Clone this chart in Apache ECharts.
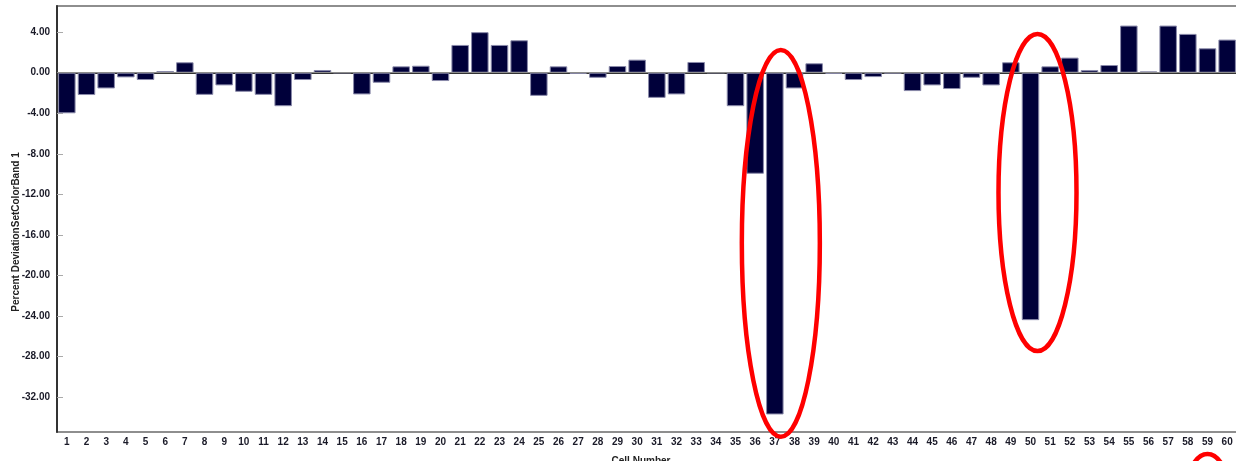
<!DOCTYPE html>
<html>
<head>
<meta charset="utf-8">
<script src="https://cdn.jsdelivr.net/npm/echarts@6/dist/echarts.min.js"></script>
<style>
  html, body { margin: 0; padding: 0; background: #ffffff; }
  #chart { width: 1236px; height: 461px; }
</style>
</head>
<body>
<div id="chart"></div>
<script>
// Cell numbers 1..60
const cells = ['1','2','3','4','5','6','7','8','9','10','11','12','13','14','15','16','17','18','19','20',
  '21','22','23','24','25','26','27','28','29','30','31','32','33','34','35','36','37','38','39','40',
  '41','42','43','44','45','46','47','48','49','50','51','52','53','54','55','56','57','58','59','60'];

// Percent deviation per cell
const deviation = [
  -4.0, -2.2, -1.55, -0.46, -0.72, 0.17, 1.03, -2.18, -1.25, -1.88,
  -2.18, -3.3, -0.72, 0.27, 0.0, -2.14, -0.99, 0.63, 0.69, -0.82,
  2.74, 4.0, 2.74, 3.2, -2.28, 0.63, -0.1, -0.5, 0.66, 1.29,
  -2.48, -2.14, 1.06, 0.0, -3.3, -9.96, -33.7, -1.55, 0.93, -0.1,
  -0.72, -0.43, -0.05, -1.81, -1.25, -1.61, -0.5, -1.25, 1.03, -24.4,
  0.63, 1.49, 0.27, 0.76, 4.65, 0.13, 4.65, 3.83, 2.41, 3.27
];

// Y axis tick values
const yTicks = [4, 0, -4, -8, -12, -16, -20, -24, -28, -32];

// Cells circled in red
const circledCells = ['37', '50', '59'];

const FONT = '"Liberation Sans", Arial, sans-serif';
const chart = echarts.init(document.getElementById('chart'), null, { renderer: 'canvas' });

chart.setOption({
  animation: false,
  backgroundColor: '#ffffff',
  grid: {
    left: 57, right: -1, top: 6, bottom: 29,
    outerBoundsMode: 'none',
    containLabel: false,
    show: true, borderColor: '#6a6a6a', borderWidth: 1.5, backgroundColor: 'transparent'
  },
  xAxis: {
    type: 'category',
    data: cells,
    name: 'Cell Number',
    nameLocation: 'middle',
    nameGap: 24,
    nameMoveOverlap: false,
    nameTextStyle: { fontFamily: FONT, fontWeight: 'bold', fontSize: 10, color: '#222', padding: [0, 12, 0, 0] },
    axisLine: { lineStyle: { color: '#333', width: 2 } },
    axisTick: { show: false },
    axisLabel: { interval: 0, margin: 5, fontFamily: FONT, fontWeight: 'bold', fontSize: 10, color: '#1a1a28' },
    splitLine: { show: false }
  },
  yAxis: {
    type: 'value',
    min: -35.43,
    max: 6.58,
    name: 'Percent DeviationSetColorBand 1',
    nameLocation: 'middle',
    nameRotate: 90,
    nameGap: 36,
    nameMoveOverlap: false,
    nameTextStyle: { fontFamily: FONT, fontWeight: 'bold', fontSize: 10, color: '#222', padding: [0, 26, 0, 0] },
    axisLine: { show: true, lineStyle: { color: '#333', width: 2 } },
    axisTick: { show: true, inside: true, length: 6, customValues: yTicks, lineStyle: { color: '#aaa' } },
    axisLabel: {
      margin: 7, customValues: yTicks,
      fontFamily: FONT, fontWeight: 'bold', fontSize: 10, color: '#1a1a28',
      formatter: v => v.toFixed(2)
    },
    splitLine: { show: false }
  },
  series: [{
    type: 'bar',
    data: deviation,
    barCategoryGap: '11%',
    itemStyle: { color: '#00003a', borderColor: '#8a8aaa', borderWidth: 1 },
    markLine: {
      silent: true,
      symbol: 'none',
      label: { show: false },
      lineStyle: { color: '#8c8c8c', width: 1, type: 'solid' },
      data: [{ yAxis: 0 }]
    }
  }]
});

// Red ovals drawn around the highlighted cells, placed through the chart's own scales
const ovalSpan = { '37': [2.25, -35.9, 6, 39], '50': [3.83, -27.45, 7, 39], '59': [-37.6, -46, 0, 22] };
const ovals = circledCells.map(c => {
  const [hi, lo, dx, rx] = ovalSpan[c];
  const top = chart.convertToPixel({ seriesIndex: 0 }, [c, hi]);
  const bot = chart.convertToPixel({ seriesIndex: 0 }, [c, lo]);
  return {
    type: 'ellipse',
    silent: true,
    shape: { cx: top[0] + dx, cy: (top[1] + bot[1]) / 2, rx: rx, ry: (bot[1] - top[1]) / 2 },
    style: { fill: 'none', stroke: '#ff0000', lineWidth: 4.5 },
    z: 100
  };
});
chart.setOption({ graphic: ovals });
</script>
</body>
</html>
